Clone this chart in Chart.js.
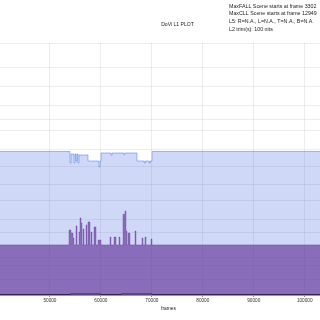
<!DOCTYPE html>
<html>
<head>
<meta charset="utf-8">
<script src="https://cdn.jsdelivr.net/npm/chart.js@4.4.1/dist/chart.umd.min.js"></script>
<style>
  html, body { margin: 0; padding: 0; background: #fff; overflow: hidden; }
  #wrap { position: absolute; left: 0; top: 0; width: 320px; height: 320px; }
</style>
</head>
<body>
<div id="wrap"><canvas id="plot" width="320" height="320"></canvas></div>
<script>
// Data (y values are PQ code, 0..1)
const maxFrames = [36000, 53938, 54134, 54723, 54919, 55115, 55310, 55508, 55704, 57470, 59629, 59825, 60021, 62000, 62200, 64500, 64700, 67086, 68500, 68700, 69500, 69700, 70030, 105000];
const maxPQ     = [0.5694, 0.5238, 0.5595, 0.5238, 0.5595, 0.5317, 0.5595, 0.5238, 0.5556, 0.5317, 0.5079, 0.5317, 0.5635, 0.555, 0.5635, 0.557, 0.5635, 0.5317, 0.5238, 0.5317, 0.5238, 0.5317, 0.5694, 0.5694];

const avgFrames = [36000, 53741, 54134, 54526, 54723, 55115, 55311, 55704, 55900, 56096, 56293, 56489, 56685, 57078, 57274, 57470, 57863, 58059, 58255, 58648, 59040, 59433, 60021, 61788, 61984, 62573, 62965, 63554, 63750, 64339, 64731, 64928, 65124, 65320, 65713, 66694, 66890, 68068, 68264, 68656, 68853, 69834, 70030, 105000];
const avgPQ     = [0.1984, 0.258, 0.246, 0.226, 0.1984, 0.274, 0.1984, 0.25, 0.306, 0.286, 0.1984, 0.262, 0.1984, 0.278, 0.1984, 0.29, 0.1984, 0.25, 0.1984, 0.27, 0.1984, 0.218, 0.1984, 0.23, 0.1984, 0.23, 0.1984, 0.23, 0.1984, 0.32, 0.333, 0.254, 0.1984, 0.246, 0.1984, 0.254, 0.1984, 0.226, 0.1984, 0.23, 0.1984, 0.222, 0.1984, 0.1984];

const minFrames = [36000, 54000, 60000, 64000, 70000, 105000];
const minPQ     = [0.002, 0.004, 0.002, 0.004, 0.002, 0.002];

const xTicks = [50000, 60000, 70000, 80000, 90000, 100000];
const yTickNits = [0, 0.1, 0.5, 1, 2.5, 5, 10, 25, 50, 100, 200, 400, 600, 1000, 2000, 4000, 10000];

const infoLines = [
  "MaxFALL Scene starts at frame 3302",
  "MaxCLL Scene starts at frame 12949",
  "L5: R=N.A., L=N.A., T=N.A., B=N.A.",
  "L2 trim(s): 100 nits"
];

function pq(nits) {
  const m1 = 0.1593017578125, m2 = 78.84375, c1 = 0.8359375, c2 = 18.8515625, c3 = 18.6875;
  const y = Math.pow(nits / 10000, m1);
  return Math.pow((c1 + c2 * y) / (1 + c3 * y), m2);
}

function points(xs, ys) {
  return xs.map((x, i) => ({ x: x, y: ys[i] }));
}

const FONT = "'Liberation Sans', Arial, sans-serif";

// title, summary box and axis title
const textPlugin = {
  id: "texts",
  afterDraw(chart) {
    const ctx = chart.ctx;
    ctx.save();
    ctx.fillStyle = "#222";
    ctx.textBaseline = "middle";
    ctx.textAlign = "center";
    ctx.font = "5.1px " + FONT;
    ctx.fillText("DoVi L1 PLOT", 177.5, 24.5);
    ctx.font = "4.9px " + FONT;
    ctx.fillText("frames", 168.5, 309);
    ctx.textAlign = "left";
    ctx.font = "5.3px " + FONT;
    for (var i = 0; i < infoLines.length; i++) {
      ctx.fillText(infoLines[i], 229, 6.3 + i * 7.6);
    }
    ctx.restore();
  }
};

new Chart("plot", {
  type: "line",
  data: {
    datasets: [{
      label: "Min",
      data: points(minFrames, minPQ),
      stepped: true,
      borderColor: "rgba(40,20,70,0.85)",
      borderWidth: 1,
      pointRadius: 0,
      fill: false
    }, {
      label: "Average",
      data: points(avgFrames, avgPQ),
      stepped: true,
      borderColor: "rgba(102,51,153,0.35)",
      backgroundColor: "rgba(102,51,153,0.65)",
      borderWidth: 1,
      pointRadius: 0,
      fill: "origin"
    }, {
      label: "Maximum",
      data: points(maxFrames, maxPQ),
      stepped: true,
      borderColor: "rgba(65,105,225,0.45)",
      backgroundColor: "rgba(65,105,225,0.25)",
      borderWidth: 1,
      pointRadius: 0,
      fill: "origin"
    }]
  },
  options: {
    responsive: false,
    animation: false,
    layout: { padding: { left: 0, right: 0, top: 43, bottom: 0 } },
    plugins: {
      legend: { display: false },
      tooltip: { enabled: false }
    },
    scales: {
      x: {
        type: "linear",
        min: 40200,
        max: 103000,
        afterBuildTicks: (s) => { s.ticks = xTicks.map(v => ({ value: v })); },
        afterFit: (s) => { s.height = 25; },
        grid: { color: "rgba(0,0,0,0.07)", tickLength: 2, tickColor: "rgba(0,0,0,0.45)" },
        border: { color: "rgba(0,0,0,0.4)" },
        ticks: {
          autoSkip: false,
          maxRotation: 0,
          padding: 1,
          color: "#333",
          font: { family: FONT, size: 4.7 },
          callback: (v) => String(v)
        }
      },
      y: {
        type: "linear",
        min: 0,
        max: 1,
        afterBuildTicks: (s) => { s.ticks = yTickNits.map(n => ({ value: pq(n) })); },
        afterFit: (s) => { s.width = 0; },
        grid: { color: "rgba(0,0,0,0.07)", drawTicks: false },
        border: { display: false },
        ticks: { display: false }
      }
    }
  },
  plugins: [textPlugin]
});
</script>
</body>
</html>
